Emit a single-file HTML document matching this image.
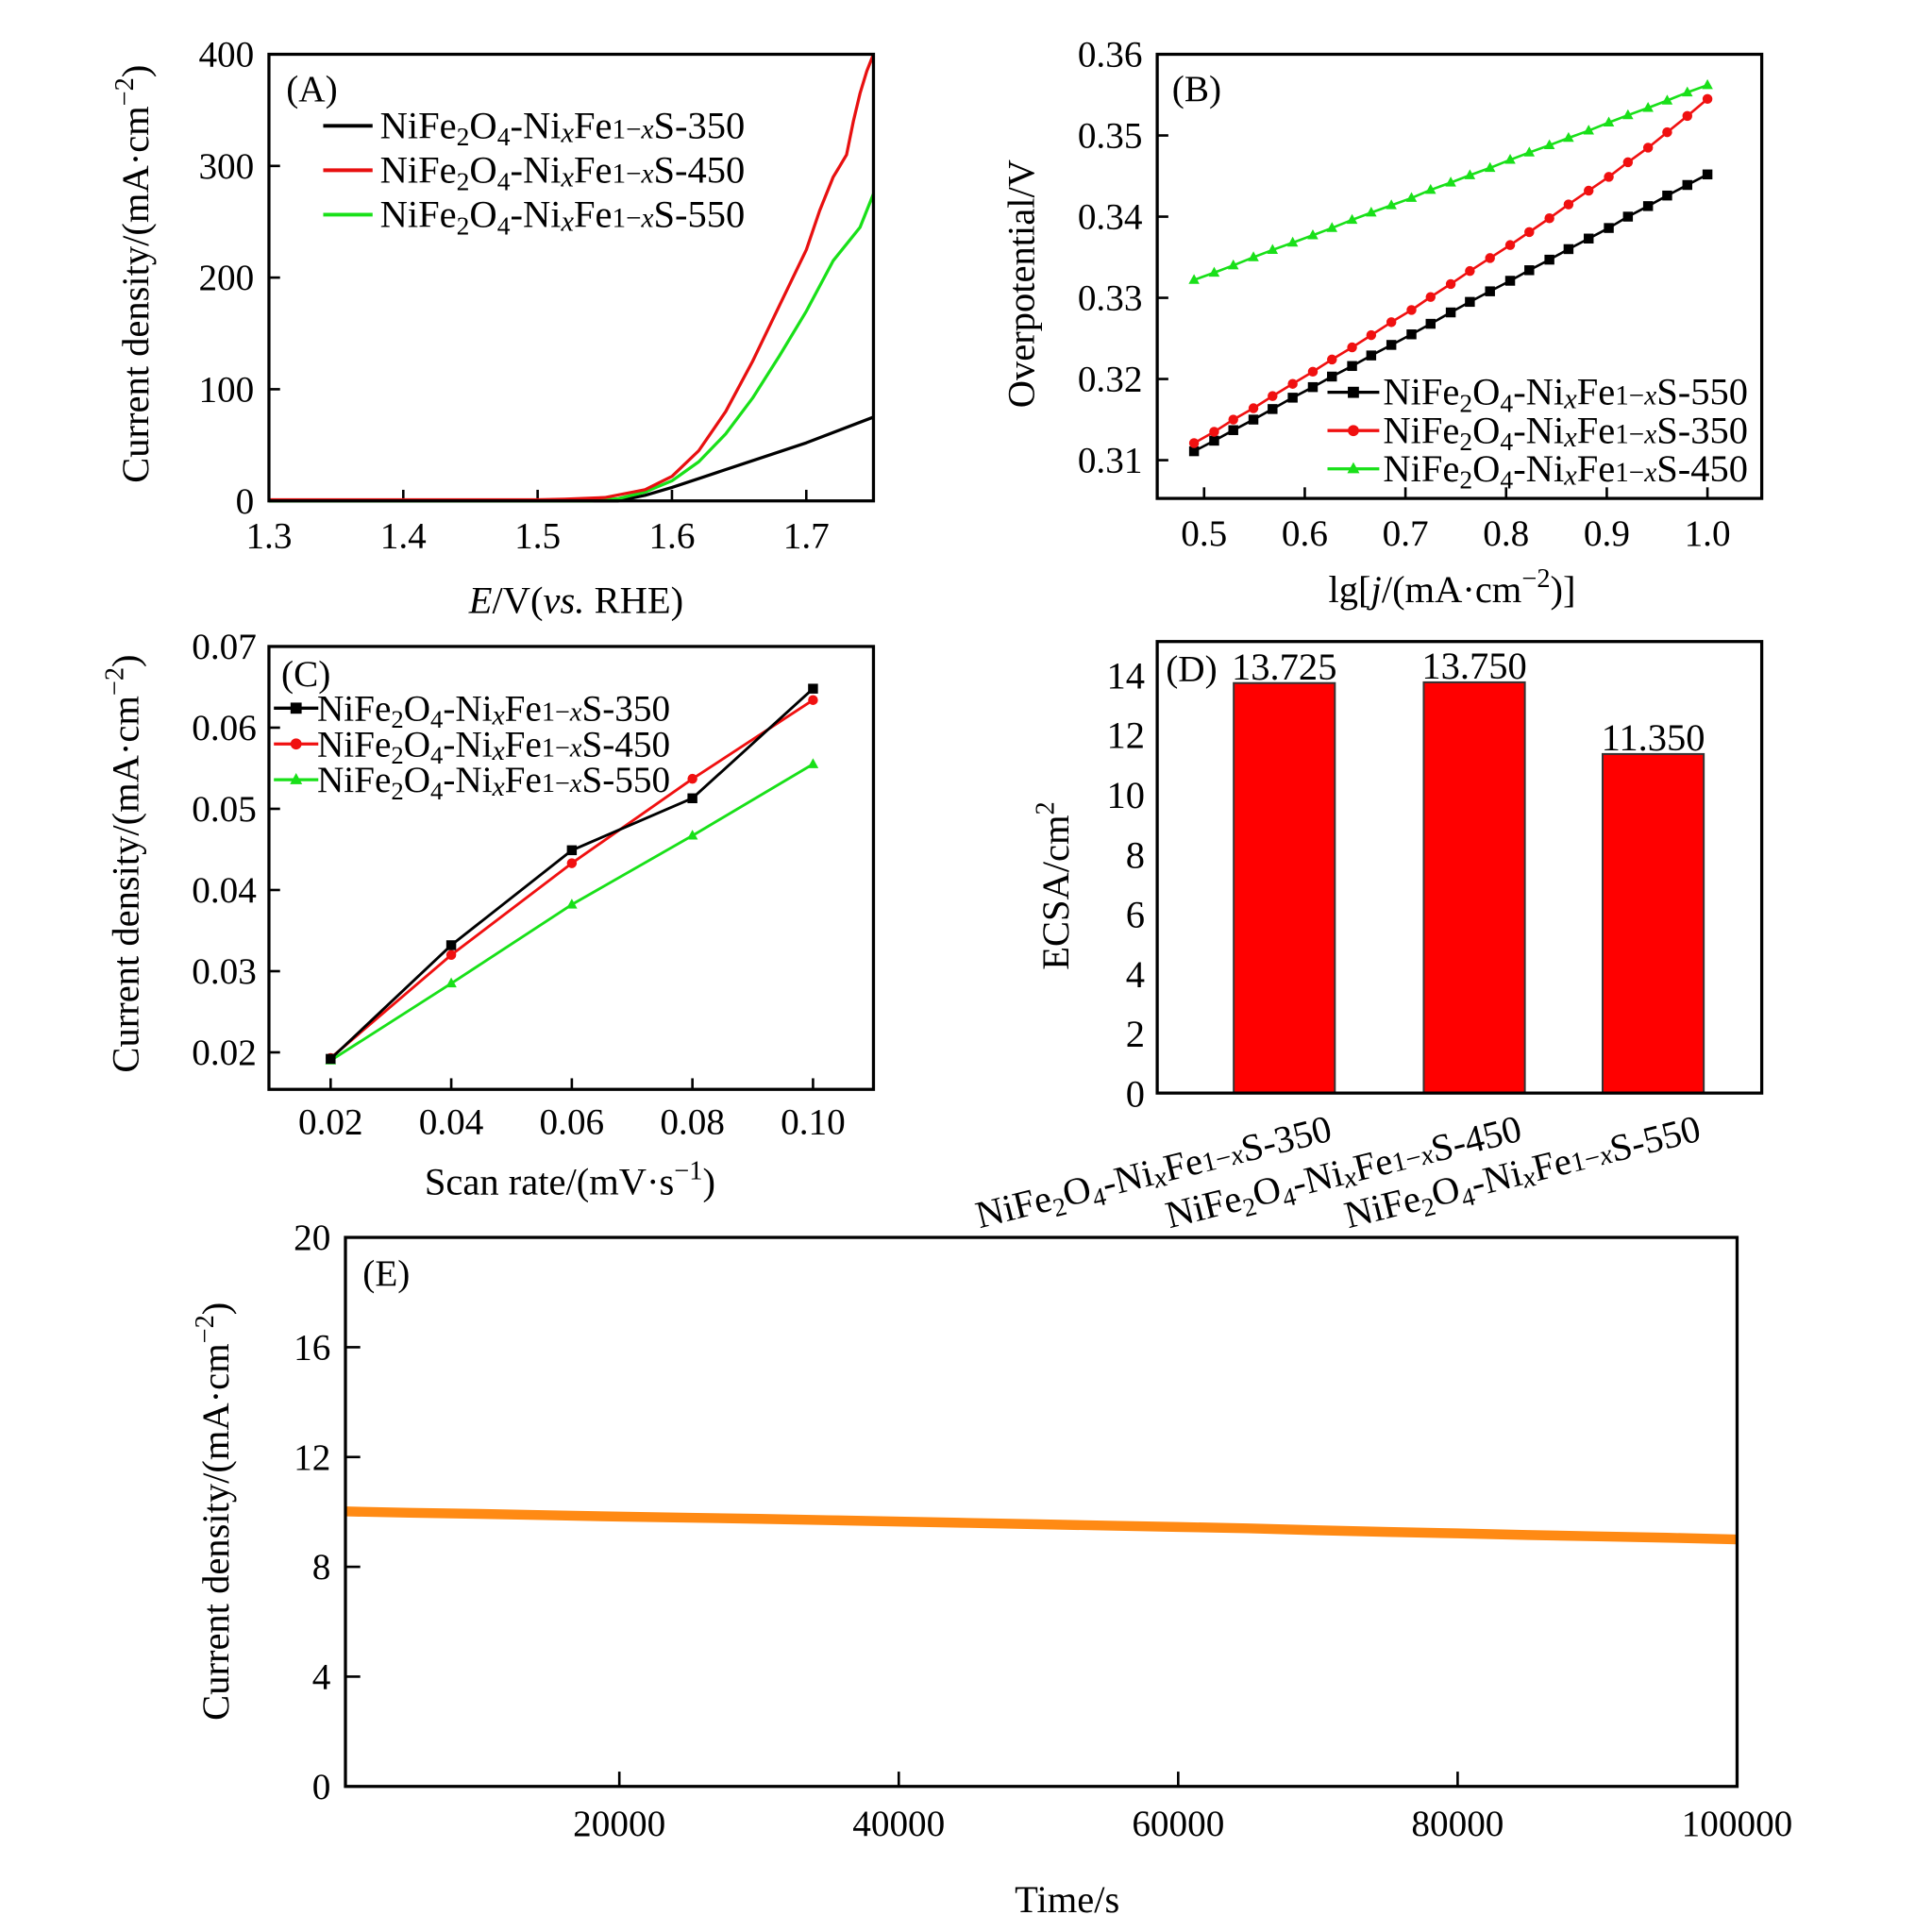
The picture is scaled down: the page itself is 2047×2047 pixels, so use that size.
<!DOCTYPE html>
<html><head><meta charset="utf-8"><style>
html,body{margin:0;padding:0;background:#fff}
svg{display:block}
text{font-family:"Liberation Serif",serif;fill:#000}
</style></head><body>
<svg id="fig" width="2047" height="2047" viewBox="0 0 1566 1566" xmlns="http://www.w3.org/2000/svg">
<rect width="1566" height="1566" fill="#fff"/>
</svg>
<script>
// ---- Panel A data ----
const aRedX=[1.30,1.50,1.52,1.55,1.58,1.60,1.62,1.64,1.66,1.68,1.70,1.71,1.72,1.725,1.73,1.735,1.74,1.745,1.75];
const aRedY=[1,1,1.5,3,10,22,45,80,125,175,225,260,290,300,310,340,365,385,400];
const aGreenX=[1.30,1.54,1.56,1.58,1.60,1.62,1.64,1.66,1.68,1.70,1.72,1.74,1.75];
const aGreenY=[0,0,2,8,18,35,60,92,130,170,215,245,275];
const aBlackX=[1.30,1.56,1.58,1.60,1.62,1.65,1.70,1.75];
const aBlackY=[0,0,5,12,20,32,52,75];
const aXTicks=[1.3,1.4,1.5,1.6,1.7];
const aYTicks=[0,100,200,300,400];
// ---- Panel B data ----
const bX=[0.490,0.510,0.529,0.549,0.568,0.588,0.608,0.627,0.647,0.666,0.686,0.706,0.725,0.745,0.764,0.784,0.804,0.823,0.843,0.862,0.882,0.902,0.921,0.941,0.960,0.980,1.000];
const bBlack=[0.3111,0.3124,0.3137,0.3150,0.3163,0.3177,0.3190,0.3203,0.3216,0.3229,0.3242,0.3255,0.3268,0.3282,0.3295,0.3308,0.3321,0.3334,0.3347,0.3360,0.3373,0.3386,0.3400,0.3413,0.3426,0.3439,0.3452];
const bRed=[0.3121,0.3135,0.3150,0.3164,0.3179,0.3194,0.3209,0.3224,0.3239,0.3254,0.3270,0.3285,0.3301,0.3317,0.3333,0.3349,0.3365,0.3381,0.3398,0.3415,0.3432,0.3449,0.3467,0.3485,0.3504,0.3524,0.3545];
const bGreen=[0.3322,0.3331,0.3340,0.3350,0.3359,0.3368,0.3377,0.3386,0.3396,0.3405,0.3414,0.3423,0.3433,0.3442,0.3451,0.3460,0.3470,0.3479,0.3488,0.3497,0.3506,0.3516,0.3525,0.3534,0.3543,0.3553,0.3562];
const bXTicks=[0.5,0.6,0.7,0.8,0.9,1.0];
const bXLabels=["0.5","0.6","0.7","0.8","0.9","1.0"];
const bYTicks=[0.31,0.32,0.33,0.34,0.35,0.36];
// ---- Panel C data ----
const cX=[0.02,0.04,0.06,0.08,0.10];
const c350=[0.0192,0.0332,0.0449,0.0513,0.0648];
const c450=[0.0193,0.0320,0.0433,0.0537,0.0634];
const c550=[0.0190,0.0285,0.0382,0.0467,0.0555];
const cXLabels=["0.02","0.04","0.06","0.08","0.10"];
const cYTicks=[0.02,0.03,0.04,0.05,0.06,0.07];
// ---- Panel D data ----
const dValues=[13.725,13.750,11.350];
const dLabels=["13.725","13.750","11.350"];
const dCats=["350","450","550"];
const dYTicks=[0,2,4,6,8,10,12,14];
// ---- Panel E data ----
const eT=[0,5000,10000,15000,20000,25000,30000,35000,40000,45000,50000,55000,60000,65000,70000,75000,80000,85000,90000,95000,100000];
const eJ=[10.02,9.97,9.93,9.88,9.83,9.79,9.75,9.70,9.65,9.60,9.55,9.50,9.45,9.40,9.33,9.27,9.22,9.16,9.11,9.06,9.00];
const eXTicks=[20000,40000,60000,80000,100000];
const eYTicks=[0,4,8,12,16,20];

const NS="http://www.w3.org/2000/svg";
const svg=document.getElementById('fig');
function mk(tag,attrs,name,parent){
  const el=document.createElementNS(NS,tag);
  for(const k in attrs) el.setAttribute(k,attrs[k]);
  
  
  (parent||svg).appendChild(el);
  return el;
}
function txt(x,y,s,size,name,anchor,extra){
  const t=mk('text',Object.assign({x:x,y:y,'font-size':size,'text-anchor':anchor||'middle'},extra||{}),name);
  t.innerHTML=s;
  return t;
}
function lin(d0,d1,r0,r1){return v=>r0+(v-d0)/(d1-d0)*(r1-r0);}
const SUB='<tspan font-size="68%" dy="6">';
function formula(n){return 'NiFe'+SUB+'2</tspan><tspan dy="-6">O</tspan>'+SUB+'4</tspan><tspan dy="-6">-Ni</tspan><tspan font-size="75%" font-style="italic" dy="3">x</tspan><tspan dy="-3">Fe</tspan><tspan font-size="72%">1−</tspan><tspan font-size="72%" font-style="italic">x</tspan>S-'+n;}
function frame(x0,y0,x1,y1,name){mk('rect',{x:x0,y:y0,width:x1-x0,height:y1-y0,fill:'none',stroke:'#000','stroke-width':2.5},name);}
function path(pts,color,w,name){mk('path',{d:'M'+pts.map(p=>p[0].toFixed(1)+','+p[1].toFixed(1)).join('L'),fill:'none',stroke:color,'stroke-width':w,'stroke-linejoin':'round'},name);}
function marker(type,x,y,color,s,name){
  if(type==='sq') mk('rect',{x:x-s,y:y-s,width:2*s,height:2*s,fill:color},name);
  else if(type==='ci') mk('circle',{cx:x,cy:y,r:s,fill:color},name);
  else mk('path',{d:`M${x},${y-s*1.2}L${x+s*1.1},${y+s*0.8}L${x-s*1.1},${y+s*0.8}Z`,fill:color},name);
}

// ===== Panel A =====
(function(){
  const X0=218,X1=708,Y0=44,Y1=406;
  const sx=lin(1.3,1.75,X0,X1), sy=lin(0,400,Y1,Y0);
  aXTicks.forEach(v=>{mk('line',{x1:sx(v),x2:sx(v),y1:Y1,y2:Y1-9,stroke:'#000','stroke-width':2},'a-x-tick');txt(sx(v),Y1+38,v.toFixed(1),30,'a-x-tick-label');});
  aYTicks.forEach(v=>{mk('line',{x1:X0,x2:X0+9,y1:sy(v),y2:sy(v),stroke:'#000','stroke-width':2},'a-y-tick');txt(X0-12,sy(v)+10,String(v),30,'a-y-tick-label','end');});
  path(aBlackX.map((x,i)=>[sx(x),sy(aBlackY[i])]),'#000',2.5,'a-series-350');
  path(aGreenX.map((x,i)=>[sx(x),sy(aGreenY[i])]),'#19e019',2.5,'a-series-550');
  path(aRedX.map((x,i)=>[sx(x),sy(aRedY[i])]),'#e81010',2.5,'a-series-450');
  frame(X0,Y0,X1,Y1,'a-plot-frame');
  txt(232,82,'(A)',30,'a-panel-label','start');
  [['#000','350'],['#e81010','450'],['#19e019','550']].forEach((c,i)=>{
    const y=102+i*36;
    mk('line',{x1:262,x2:302,y1:y,y2:y,stroke:c[0],'stroke-width':3},'a-legend-line-'+c[1]);
    txt(308,y+10,formula(c[1]),31,'a-legend-entry-'+c[1],'start');
  });
  txt(0,0,'Current density/(mA·cm<tspan font-size="70%" dy="-12">−2</tspan><tspan dy="12">)</tspan>',31,'a-y-axis-title','middle',{transform:'translate(120,222) rotate(-90)'});
  txt(467,497,'<tspan font-style="italic">E</tspan>/V(<tspan font-style="italic">vs.</tspan> RHE)',31,'a-x-axis-title');
})();

// ===== Panel B =====
(function(){
  const X0=938,X1=1428,Y0=44,Y1=404;
  const sx=lin(0.5,1.0,976,1384), sy=lin(0.31,0.36,373,44);
  bXTicks.forEach((v,i)=>{mk('line',{x1:sx(v),x2:sx(v),y1:Y1,y2:Y1-9,stroke:'#000','stroke-width':2},'b-x-tick');txt(sx(v),Y1+38,bXLabels[i],30,'b-x-tick-label');});
  bYTicks.forEach(v=>{mk('line',{x1:X0,x2:X0+9,y1:sy(v),y2:sy(v),stroke:'#000','stroke-width':2},'b-y-tick');txt(X0-12,sy(v)+10,v.toFixed(2),30,'b-y-tick-label','end');});
  [[bBlack,'#000','sq','550'],[bRed,'#f01010','ci','350'],[bGreen,'#19e019','tr','450']].forEach(s=>{
    path(bX.map((x,i)=>[sx(x),sy(s[0][i])]),s[1],2,'b-series-'+s[3]);
    bX.forEach((x,i)=>marker(s[2],sx(x),sy(s[0][i]),s[1],4,'b-point-'+s[3]));
  });
  frame(X0,Y0,X1,Y1,'b-plot-frame');
  txt(950,82,'(B)',30,'b-panel-label','start');
  [['#000','sq','550'],['#f01010','ci','350'],['#19e019','tr','450']].forEach((c,i)=>{
    const y=318+i*31;
    mk('line',{x1:1076,x2:1118,y1:y,y2:y,stroke:c[0],'stroke-width':2.5},'b-legend-line-'+c[2]);
    marker(c[1],1097,y,c[0],4.5,'b-legend-marker-'+c[2]);
    txt(1121,y+10,formula(c[2]),31,'b-legend-entry-'+c[2],'start');
  });
  txt(0,0,'Overpotential/V',31,'b-y-axis-title','middle',{transform:'translate(838,230) rotate(-90)'});
  txt(1177,488,'lg[<tspan font-style="italic">j</tspan>/(mA·cm<tspan font-size="70%" dy="-12">−2</tspan><tspan dy="12">)]</tspan>',31,'b-x-axis-title');
})();

// ===== Panel C =====
(function(){
  const X0=218,X1=708,Y0=524,Y1=883;
  const sx=lin(0.02,0.10,268,659), sy=lin(0.02,0.07,853,524);
  cX.forEach((v,i)=>{mk('line',{x1:sx(v),x2:sx(v),y1:Y1,y2:Y1-9,stroke:'#000','stroke-width':2},'c-x-tick');txt(sx(v),Y1+36,cXLabels[i],30,'c-x-tick-label');});
  cYTicks.forEach(v=>{mk('line',{x1:X0,x2:X0+9,y1:sy(v),y2:sy(v),stroke:'#000','stroke-width':2},'c-y-tick');txt(X0-10,sy(v)+10,v.toFixed(2),30,'c-y-tick-label','end');});
  [[c550,'#19e019','tr','550'],[c450,'#f01010','ci','450'],[c350,'#000','sq','350']].forEach(s=>{
    path(cX.map((x,i)=>[sx(x),sy(s[0][i])]),s[1],2.2,'c-series-'+s[3]);
    cX.forEach((x,i)=>marker(s[2],sx(x),sy(s[0][i]),s[1],4,'c-point-'+s[3]));
  });
  frame(X0,Y0,X1,Y1,'c-plot-frame');
  txt(228,556,'(C)',30,'c-panel-label','start');
  [['#000','sq','350'],['#f01010','ci','450'],['#19e019','tr','550']].forEach((c,i)=>{
    const y=574+i*29;
    mk('line',{x1:222,x2:258,y1:y,y2:y,stroke:c[0],'stroke-width':2.5},'c-legend-line-'+c[2]);
    marker(c[1],240,y,c[0],4.5,'c-legend-marker-'+c[2]);
    txt(257,y+10,formula(c[2]),30,'c-legend-entry-'+c[2],'start');
  });
  txt(0,0,'Current density/(mA·cm<tspan font-size="70%" dy="-12">−2</tspan><tspan dy="12">)</tspan>',31,'c-y-axis-title','middle',{transform:'translate(112,700) rotate(-90)'});
  txt(462,968,'Scan rate/(mV·s<tspan font-size="70%" dy="-12">−1</tspan><tspan dy="12">)</tspan>',31,'c-x-axis-title');
})();

// ===== Panel D =====
(function(){
  const X0=938,X1=1428,Y0=520,Y1=886;
  const sy=lin(0,14,Y1,547);
  const centers=[1041,1195,1340], bw=82;
  dYTicks.forEach(v=>txt(X0-10,sy(v)+11,String(v),31,'d-y-tick-label','end'));
  dValues.forEach((v,i)=>{
    mk('rect',{x:centers[i]-bw/2,y:sy(v),width:bw,height:Y1-sy(v),fill:'#ff0000',stroke:'#333','stroke-width':1.5},'d-bar-'+dCats[i]);
    txt(centers[i],sy(v)-3,dLabels[i],31,'d-bar-value-'+dCats[i]);
    txt(0,0,formula(dCats[i]),31,'d-x-category-'+dCats[i],'end',{transform:`translate(${centers[i]+40},${Y1+38}) rotate(-14)`});
  });
  frame(X0,Y0,X1,Y1,'d-plot-frame');
  txt(945,552,'(D)',30,'d-panel-label','start');
  txt(0,0,'ECSA/cm<tspan font-size="70%" dy="-12">2</tspan>',31,'d-y-axis-title','middle',{transform:'translate(866,718) rotate(-90)'});
})();

// ===== Panel E =====
(function(){
  const X0=280,X1=1408,Y0=1003,Y1=1448;
  const sx=lin(0,100000,275.5,1408), sy=lin(0,20,Y1,Y0);
  eXTicks.forEach(v=>{mk('line',{x1:sx(v),x2:sx(v),y1:Y1,y2:Y1-12,stroke:'#000','stroke-width':2},'e-x-tick');txt(sx(v),Y1+40,String(v),30,'e-x-tick-label');});
  eYTicks.forEach(v=>{mk('line',{x1:X0,x2:X0+12,y1:sy(v),y2:sy(v),stroke:'#000','stroke-width':2},'e-y-tick');txt(X0-12,sy(v)+10,String(v),30,'e-y-tick-label','end');});
  path(eT.map((t,i)=>[Math.max(sx(t),X0+1),sy(eJ[i])]),'#ff8a14',8,'e-series-stability');
  frame(X0,Y0,X1,Y1,'e-plot-frame');
  txt(294,1042,'(E)',30,'e-panel-label','start');
  txt(0,0,'Current density/(mA·cm<tspan font-size="70%" dy="-12">−2</tspan><tspan dy="12">)</tspan>',31,'e-y-axis-title','middle',{transform:'translate(185,1225) rotate(-90)'});
  txt(865,1550,'Time/s',31,'e-x-axis-title');
})();
</script>
</body></html>
